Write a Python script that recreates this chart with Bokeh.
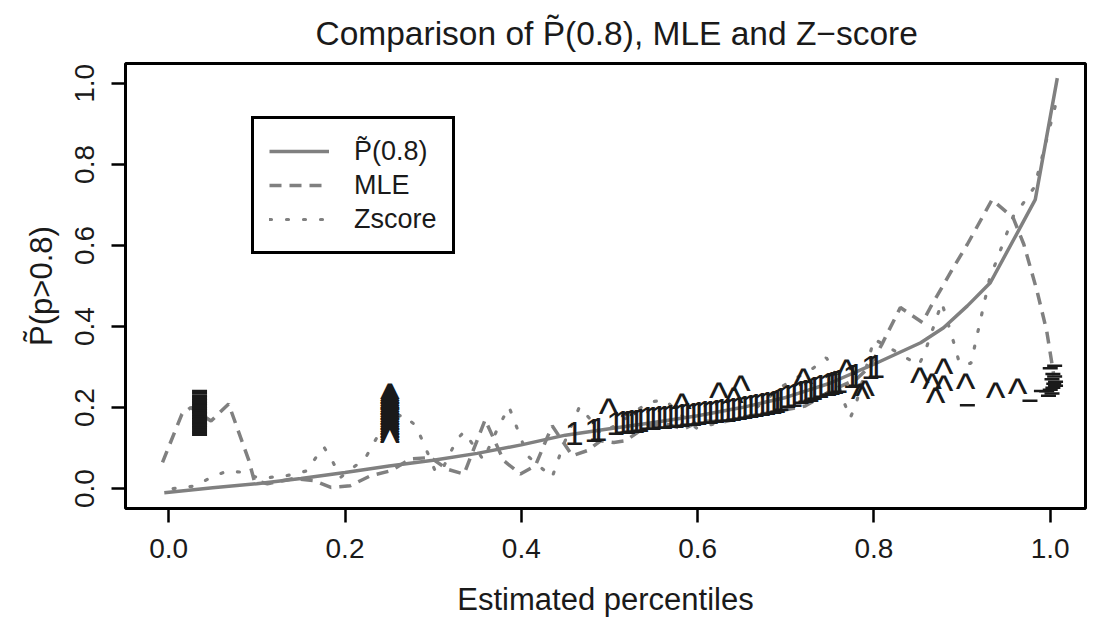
from bokeh.plotting import figure
from bokeh.models import Range1d, FixedTicker, PrintfTickFormatter, Legend, LegendItem
from bokeh.embed import file_html
from bokeh.resources import INLINE
from bokeh.core.properties import value

# ---------------- data ----------------
curve_x = [-0.005, 0.05, 0.1, 0.15, 0.2, 0.25, 0.3, 0.35, 0.4, 0.45, 0.5, 0.55, 0.6, 0.65,
           0.7, 0.75, 0.8, 0.853, 0.879, 0.906, 0.932, 0.983, 1.008]
curve_y = [-0.01, 0.002, 0.012, 0.025, 0.04, 0.056, 0.07, 0.087, 0.108, 0.132, 0.148, 0.163,
           0.18, 0.2, 0.225, 0.26, 0.307, 0.36, 0.397, 0.451, 0.508, 0.713, 1.013]

mle_x = [-0.007, 0.015, 0.025, 0.048, 0.068, 0.091, 0.097, 0.112, 0.142, 0.165,
         0.184, 0.206, 0.229, 0.252, 0.274, 0.297, 0.316, 0.335, 0.359, 0.38,
         0.399, 0.416, 0.435, 0.444, 0.458, 0.475, 0.49, 0.505, 0.518, 0.543,
         0.565, 0.584, 0.603, 0.63, 0.66, 0.69, 0.722, 0.75, 0.78, 0.795,
         0.809, 0.83, 0.855, 0.864, 0.89, 0.906, 0.934, 0.958, 0.97, 0.985,
         0.996, 1.004]
mle_y = [0.065, 0.184, 0.2, 0.167, 0.209, 0.069, 0.02, 0.012, 0.025, 0.02,
         0.003, 0.007, 0.032, 0.044, 0.073, 0.077, 0.048, 0.036, 0.17, 0.069,
         0.036, 0.057, 0.155, 0.126, 0.081, 0.094, 0.118, 0.114, 0.118, 0.155,
         0.159, 0.147, 0.167, 0.165, 0.18, 0.19, 0.204, 0.24, 0.27, 0.3,
         0.356, 0.447, 0.41, 0.447, 0.545, 0.603, 0.713, 0.668, 0.603, 0.488,
         0.389, 0.28]

z_x = [0.005, 0.031, 0.048, 0.067, 0.085, 0.102, 0.13, 0.157, 0.167, 0.176,
       0.186, 0.195, 0.223, 0.242, 0.265, 0.28, 0.288, 0.303, 0.31, 0.327,
       0.335, 0.346, 0.357, 0.372, 0.386, 0.393, 0.407, 0.435, 0.447, 0.466,
       0.479, 0.49, 0.51, 0.528, 0.544, 0.563, 0.576, 0.599, 0.635, 0.652,
       0.697, 0.731, 0.746, 0.754, 0.766, 0.773, 0.779, 0.795, 0.8, 0.818,
       0.834, 0.851, 0.858, 0.877, 0.892, 0.897, 0.91, 0.931, 0.958, 0.971,
       0.982, 1.007]
z_y = [0.0, 0.007, 0.028, 0.044, 0.04, 0.026, 0.03, 0.044, 0.077, 0.103,
       0.067, 0.028, 0.075, 0.149, 0.184, 0.156, 0.118, 0.04, 0.046, 0.122,
       0.14, 0.106, 0.071, 0.143, 0.202, 0.162, 0.081, 0.028, 0.104, 0.202,
       0.169, 0.135, 0.16, 0.188, 0.213, 0.219, 0.192, 0.149, 0.169, 0.173,
       0.254, 0.297, 0.323, 0.295, 0.214, 0.174, 0.204, 0.328, 0.369, 0.347,
       0.326, 0.305, 0.338, 0.459, 0.35, 0.309, 0.309, 0.516, 0.672, 0.709,
       0.744, 0.955]

# "1" symbols
ones_x = [0.46, 0.482, 0.487, 0.507, 0.515, 0.52, 0.525, 0.53, 0.535, 0.543,
          0.549, 0.556, 0.562, 0.569, 0.575, 0.582, 0.588, 0.595, 0.601, 0.608,
          0.614, 0.621, 0.627, 0.634, 0.64, 0.647, 0.653, 0.66, 0.666, 0.673,
          0.679, 0.686, 0.69, 0.694, 0.702, 0.709, 0.717, 0.722, 0.728, 0.732,
          0.739, 0.748, 0.752, 0.756, 0.76, 0.775, 0.779, 0.796, 0.802]
ones_y = [0.135, 0.143, 0.145, 0.16, 0.163, 0.164, 0.165, 0.166, 0.167, 0.172,
          0.173, 0.175, 0.176, 0.177, 0.179, 0.18, 0.182, 0.183, 0.185, 0.187,
          0.189, 0.19, 0.192, 0.194, 0.196, 0.198, 0.2, 0.202, 0.204, 0.207,
          0.21, 0.213, 0.216, 0.219, 0.228, 0.231, 0.238, 0.24, 0.243, 0.248,
          0.252, 0.258, 0.26, 0.262, 0.265, 0.276, 0.279, 0.298, 0.301]

# "^" symbols
caret_x = [0.499, 0.582, 0.624, 0.641, 0.649, 0.72, 0.769, 0.785, 0.79, 0.852,
           0.866, 0.879, 0.879, 0.87, 0.904, 0.938, 0.963,
           0.251, 0.251, 0.251, 0.251, 0.251, 0.251, 0.251, 0.251, 0.251, 0.251,
           0.251, 0.251, 0.251, 0.251, 0.251, 0.251, 0.251, 0.251, 0.251, 0.251,
           0.251, 0.251, 0.251, 0.251, 0.251, 0.251, 0.251, 0.251]
caret_y = [0.204, 0.217, 0.245, 0.233, 0.262, 0.28, 0.301, 0.241, 0.25, 0.282,
           0.266, 0.303, 0.262, 0.233, 0.268, 0.245, 0.254,
           0.133, 0.137, 0.142, 0.145, 0.149, 0.154, 0.157, 0.161, 0.166, 0.169,
           0.173, 0.178, 0.181, 0.185, 0.19, 0.193, 0.197, 0.202, 0.205, 0.209,
           0.214, 0.217, 0.221, 0.226, 0.229, 0.233, 0.238, 0.242]

# "_" / "=" symbols
bar_x = [0.035, 0.035, 0.035, 0.035, 0.035, 0.035, 0.035, 0.035, 0.035, 0.035,
         0.035, 0.035, 0.035, 0.035, 0.035, 0.035, 0.035, 0.035, 0.035, 0.035,
         0.035, 0.035, 0.035, 0.035, 0.035, 0.035, 0.035,
         0.906, 0.977, 1.005, 1.0, 1.003, 1.005, 1.002, 1.006, 1.004, 1.006,
         1.003, 1.0, 0.996, 0.99, 1.002, 0.998]
bar_y = [0.133, 0.138, 0.142, 0.148, 0.152, 0.156, 0.16, 0.163, 0.167, 0.171,
         0.175, 0.179, 0.183, 0.187, 0.19, 0.194, 0.198, 0.202, 0.206, 0.21,
         0.214, 0.218, 0.222, 0.226, 0.23, 0.236, 0.241,
         0.206, 0.217, 0.303, 0.297, 0.283, 0.277, 0.27, 0.264, 0.259, 0.254,
         0.249, 0.244, 0.24, 0.241, 0.235, 0.229]

x_ticks = [0.0, 0.2, 0.4, 0.6, 0.8, 1.0]
y_ticks = [0.0, 0.2, 0.4, 0.6, 0.8, 1.0]

title_text = "Comparison of P\u0303(0.8), MLE and Z\u2212score"
x_label = "Estimated percentiles"
y_label = "P\u0303(p>0.8)"
legend_labels = ["P\u0303(0.8)", "MLE", "Zscore"]

# ---------------- figure ----------------
GRAY = "#808080"
INK = "#1a1a1a"
FONT = "Liberation Sans"

p = figure(width=1088, height=620, output_backend="svg", toolbar_location=None,
           x_range=Range1d(-0.049, 1.04), y_range=Range1d(-0.049, 1.049),
           min_border_left=125, min_border_right=3, min_border_top=62, min_border_bottom=112,
           title=title_text)
p.title.align = "left"
p.title.offset = 190
p.title.text_font = FONT
p.title.text_font_style = "normal"
p.title.text_font_size = "33.5px"
p.title.text_color = INK
p.title.standoff = 24

p.grid.visible = False
p.outline_line_color = "black"
p.outline_line_width = 3
p.outline_line_alpha = 1.0
p.background_fill_color = "white"
p.border_fill_color = "white"

for ax in (p.xaxis[0], p.yaxis[0]):
    ax.axis_line_color = None
    ax.major_tick_line_color = "black"
    ax.major_tick_line_width = 2.5
    ax.major_tick_out = 14
    ax.major_tick_in = 0
    ax.minor_tick_line_color = None
    ax.major_label_text_font = FONT
    ax.major_label_text_font_size = "28px"
    ax.major_label_text_color = INK
    ax.axis_label_text_font = FONT
    ax.axis_label_text_font_size = "31px"
    ax.axis_label_text_font_style = "normal"
    ax.axis_label_text_color = INK
    ax.formatter = PrintfTickFormatter(format="%.1f")

p.xaxis[0].ticker = FixedTicker(ticks=x_ticks)
p.yaxis[0].ticker = FixedTicker(ticks=y_ticks)
p.xaxis[0].axis_label = x_label
p.yaxis[0].axis_label = y_label
p.xaxis[0].major_label_standoff = 16
p.xaxis[0].axis_label_standoff = 21
p.yaxis[0].major_label_orientation = "vertical"
p.yaxis[0].major_label_standoff = 17
p.yaxis[0].axis_label_standoff = 14

r_curve = p.line(curve_x, curve_y, line_color=GRAY, line_width=3.5)
r_mle = p.line(mle_x, mle_y, line_color=GRAY, line_width=3.5, line_dash="12 8")
r_z = p.line(z_x, z_y, line_color=GRAY, line_width=3.2, line_dash="2 15", line_cap="round")

p.text(ones_x, ones_y, text=["1"] * len(ones_x), text_font=value(FONT),
       text_font_size="34px", text_align="center", text_baseline="middle", text_color=INK)
p.text(caret_x, caret_y, text=["^"] * len(caret_x), text_font=value(FONT),
       text_font_size="42px", text_align="center", text_baseline="middle", text_color=INK,
       y_offset=8)
p.scatter(bar_x, bar_y, marker="dash", size=15, line_color=INK, line_width=2.5)

legend = Legend(items=[LegendItem(label=legend_labels[0], renderers=[r_curve]),
                       LegendItem(label=legend_labels[1], renderers=[r_mle]),
                       LegendItem(label=legend_labels[2], renderers=[r_z])],
                location=(126, 254))
legend.label_text_font = FONT
legend.label_text_font_size = "27px"
legend.label_text_color = INK
legend.glyph_width = 60
legend.glyph_height = 34
legend.label_height = 34
legend.label_standoff = 25
legend.spacing = 0
legend.padding = 15
legend.margin = 0
legend.border_line_color = "black"
legend.border_line_width = 3
legend.border_line_alpha = 1.0
legend.background_fill_color = "white"
legend.background_fill_alpha = 1.0
p.add_layout(legend, "center")

open("out.html", "w").write(file_html(p, INLINE))
